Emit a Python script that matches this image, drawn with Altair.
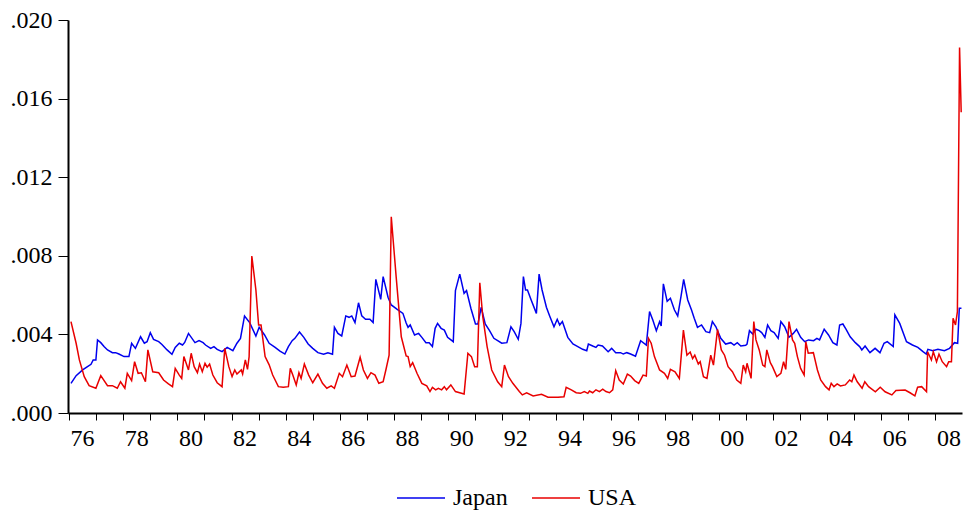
import altair as alt
import pandas as pd

# Decimal year and value (in units of 0.001)
jp_t = [1976.07,1976.26,1976.50,1976.68,1976.81,1976.89,1976.99,1977.05,1977.17,1977.29,1977.42,1977.60,1977.72,1977.84,
        1978.03,1978.21,1978.31,1978.45,1978.64,1978.78,1978.88,1979.00,1979.12,1979.31,1979.43,1979.62,1979.80,1979.92,
        1980.07,1980.19,1980.27,1980.41,1980.65,1980.80,1980.95,1981.04,1981.23,1981.35,1981.47,1981.65,1981.84,1982.05,
        1982.20,1982.33,1982.48,1982.67,1982.90,1983.02,1983.22,1983.39,1983.61,1983.79,1983.97,1984.10,1984.24,1984.34,
        1984.51,1984.67,1984.83,1985.00,1985.19,1985.40,1985.56,1985.73,1985.80,1985.93,1986.07,1986.22,1986.34,1986.44,
        1986.56,1986.69,1986.81,1986.95,1987.11,1987.23,1987.33,1987.51,1987.60,1987.78,1987.90,1988.12,1988.33,1988.45,
        1988.52,1988.60,1988.76,1988.91,1989.03,1989.18,1989.30,1989.42,1989.52,1989.61,1989.74,1989.86,1989.98,1990.19,
        1990.27,1990.43,1990.59,1990.68,1990.84,1991.01,1991.10,1991.22,1991.37,1991.53,1991.69,1991.83,1991.98,1992.17,
        1992.32,1992.44,1992.59,1992.69,1992.78,1992.86,1992.93,1993.06,1993.26,1993.36,1993.47,1993.63,1993.75,1993.91,
        1994.03,1994.12,1994.22,1994.42,1994.61,1994.79,1994.97,1995.12,1995.18,1995.34,1995.46,1995.54,1995.70,1995.91,
        1996.04,1996.19,1996.37,1996.47,1996.60,1996.74,1996.92,1997.11,1997.32,1997.44,1997.56,1997.69,1997.81,1997.87,
        1997.95,1998.09,1998.21,1998.36,1998.48,1998.60,1998.70,1998.85,1998.99,1999.09,1999.21,1999.36,1999.52,1999.66,
        1999.76,1999.89,2000.07,2000.25,2000.44,2000.56,2000.68,2000.81,2000.99,2001.04,2001.13,2001.25,2001.37,2001.49,
        2001.58,2001.70,2001.80,2001.92,2002.04,2002.19,2002.29,2002.43,2002.59,2002.75,2002.87,2003.02,2003.17,2003.31,
        2003.50,2003.62,2003.72,2003.89,2004.05,2004.21,2004.36,2004.46,2004.58,2004.70,2004.85,2005.04,2005.20,2005.28,
        2005.40,2005.58,2005.77,2005.95,2006.10,2006.22,2006.44,2006.50,2006.68,2006.93,2007.15,2007.35,2007.54,2007.66,
        2007.72,2007.90,2008.09,2008.33,2008.52,2008.70,2008.82,2008.88,2008.96]
jp_v = [1.51,1.90,2.19,2.36,2.48,2.70,2.70,3.72,3.58,3.38,3.21,3.07,3.07,3.00,
        2.87,2.87,3.55,3.29,3.88,3.55,3.63,4.09,3.75,3.63,3.49,3.21,2.99,3.34,
        3.55,3.46,3.59,4.05,3.58,3.68,3.58,3.46,3.29,3.38,3.24,3.12,3.34,3.17,
        3.55,3.80,4.94,4.60,3.92,4.36,3.97,3.55,3.34,3.15,3.00,3.38,3.68,3.80,
        4.12,3.85,3.51,3.29,3.07,2.99,3.07,2.99,4.36,4.05,3.92,4.94,4.87,4.94,
        4.60,5.61,4.94,4.77,4.77,4.60,6.80,5.78,6.94,5.89,5.50,5.27,5.07,4.58,
        4.36,4.48,3.97,4.05,3.85,3.58,3.58,3.38,4.31,4.56,4.31,4.22,3.85,3.63,
        6.23,7.07,6.09,6.23,5.33,4.53,4.53,5.38,4.53,4.19,3.80,3.68,3.55,3.58,
        4.39,4.14,3.75,4.56,6.94,6.26,6.26,5.78,5.07,7.07,6.26,5.38,4.94,4.39,
        4.77,4.48,4.65,3.85,3.51,3.38,3.24,3.17,3.51,3.41,3.34,3.46,3.41,3.12,
        3.29,3.07,3.07,3.00,3.07,3.00,2.89,3.68,3.46,5.16,4.73,4.19,4.65,4.43,
        6.57,5.68,5.84,5.24,4.94,5.92,6.80,5.75,5.24,4.82,4.36,4.48,4.14,4.09,
        4.65,4.39,3.80,3.51,3.58,3.46,3.58,3.41,3.45,3.51,4.19,4.02,4.26,4.19,
        4.09,3.85,4.48,4.19,4.09,3.80,4.65,4.39,3.85,4.05,4.26,3.85,3.63,3.72,
        3.68,3.80,3.72,4.26,3.97,3.58,3.46,4.48,4.53,4.26,3.88,3.58,3.38,3.21,
        3.41,3.07,3.29,3.07,3.55,3.63,3.38,4.99,4.56,3.63,3.46,3.34,3.12,3.00,
        3.24,3.17,3.24,3.17,3.29,3.58,3.55,5.33,5.33]

us_t = [1976.07,1976.26,1976.38,1976.56,1976.74,1976.99,1977.17,1977.42,1977.60,1977.78,1977.90,1978.06,1978.15,1978.31,
        1978.42,1978.55,1978.67,1978.82,1978.91,1979.09,1979.31,1979.49,1979.67,1979.82,1979.92,1980.07,1980.16,1980.24,
        1980.41,1980.51,1980.62,1980.74,1980.82,1980.92,1981.02,1981.10,1981.19,1981.31,1981.47,1981.65,1981.75,1981.90,
        1982.02,1982.12,1982.20,1982.36,1982.41,1982.51,1982.59,1982.65,1982.75,1982.90,1983.00,1983.09,1983.24,1983.39,
        1983.52,1983.73,1983.91,1984.10,1984.17,1984.26,1984.39,1984.49,1984.57,1984.69,1984.85,1985.00,1985.19,1985.36,
        1985.52,1985.68,1985.80,1985.98,1986.10,1986.26,1986.42,1986.56,1986.75,1986.87,1987.02,1987.15,1987.30,1987.44,
        1987.60,1987.70,1987.82,1987.90,1988.08,1988.27,1988.45,1988.52,1988.60,1988.69,1988.85,1989.03,1989.21,1989.33,
        1989.42,1989.54,1989.64,1989.76,1989.86,1989.94,1990.10,1990.27,1990.59,1990.73,1990.86,1990.98,1991.08,1991.17,
        1991.28,1991.44,1991.61,1991.83,1991.98,1992.08,1992.23,1992.39,1992.63,1992.74,1992.90,1993.14,1993.45,1993.69,
        1994.06,1994.28,1994.36,1994.55,1994.73,1994.89,1995.03,1995.16,1995.22,1995.34,1995.46,1995.59,1995.71,1995.83,
        1995.96,1996.08,1996.19,1996.32,1996.47,1996.62,1996.74,1996.89,1997.04,1997.20,1997.32,1997.40,1997.50,1997.62,
        1997.81,1997.99,1998.11,1998.21,1998.38,1998.54,1998.69,1998.82,1998.94,1999.03,1999.11,1999.24,1999.31,1999.43,
        1999.56,1999.70,1999.80,1999.95,2000.09,2000.21,2000.34,2000.50,2000.66,2000.81,2000.90,2000.99,2001.04,2001.19,
        2001.29,2001.37,2001.49,2001.62,2001.70,2001.77,2001.90,2001.98,2002.14,2002.29,2002.39,2002.47,2002.59,2002.72,
        2002.80,2002.90,2003.02,2003.15,2003.21,2003.30,2003.49,2003.64,2003.76,2003.94,2004.07,2004.15,2004.25,2004.37,
        2004.49,2004.67,2004.83,2004.91,2004.99,2005.11,2005.29,2005.39,2005.53,2005.78,2005.96,2006.14,2006.39,2006.54,
        2006.88,2007.06,2007.24,2007.34,2007.49,2007.67,2007.71,2007.85,2007.92,2008.04,2008.13,2008.25,2008.41,2008.49,
        2008.59,2008.65,2008.74,2008.81,2008.89,2008.95]
us_v = [4.65,3.55,2.70,1.85,1.39,1.26,1.90,1.39,1.39,1.26,1.59,1.26,2.02,1.65,
        2.61,2.02,2.05,1.59,3.21,2.10,2.05,1.68,1.48,1.34,2.27,1.93,1.76,2.87,
        2.19,3.04,2.36,2.05,2.49,2.10,2.53,2.33,2.49,1.93,1.54,1.34,3.29,2.36,
        1.85,2.19,1.98,2.19,1.98,2.70,2.22,2.87,7.99,6.26,4.48,4.48,2.87,2.45,
        1.93,1.34,1.31,1.34,2.27,1.95,1.43,2.05,1.76,2.49,1.93,1.54,1.98,1.51,
        1.26,1.38,1.26,2.02,1.85,2.44,1.85,1.88,2.84,2.19,1.76,2.05,1.93,1.51,
        1.59,2.19,2.94,9.99,6.94,3.88,2.90,2.87,2.36,2.56,2.02,1.51,1.38,1.09,
        1.30,1.18,1.26,1.18,1.34,1.18,1.43,1.09,0.97,3.04,2.87,2.36,2.36,6.63,
        4.90,3.38,2.19,1.59,1.34,2.44,1.85,1.51,1.09,0.92,1.03,0.87,0.95,0.80,
        0.80,0.83,1.31,1.18,1.03,1.00,1.09,1.00,1.12,1.03,1.18,1.09,1.21,1.09,
        1.03,1.18,2.15,1.68,1.48,1.98,1.88,1.65,1.51,1.93,1.88,3.80,3.55,2.87,
        2.19,2.02,1.76,2.22,2.10,1.76,4.22,2.94,3.10,2.77,2.94,2.49,2.61,1.85,
        1.76,2.94,2.44,4.26,3.21,2.94,2.36,2.10,1.68,1.51,2.44,2.10,2.53,1.76,
        4.65,3.72,3.21,2.44,2.36,3.21,2.56,2.36,1.85,2.02,2.61,2.22,4.65,3.72,
        3.55,2.87,2.27,1.93,3.63,3.04,3.07,2.19,1.68,1.34,1.18,1.51,1.34,1.48,
        1.38,1.43,1.68,1.59,1.93,1.59,1.26,1.59,1.34,1.08,1.31,1.08,0.92,1.14,
        1.17,1.03,0.87,1.31,1.34,1.08,3.12,2.70,3.12,2.61,3.00,2.61,2.36,2.61,
        2.61,4.82,4.48,5.16,18.6,15.3]

series_names = ["Japan", "USA"]
series_colors = ["#0000ee", "#e80000"]
y_ticks = [0.0, 0.004, 0.008, 0.012, 0.016, 0.020]
x_ticks = list(range(1976, 2009))

df = pd.concat([
    pd.DataFrame({"year": jp_t, "value": [v / 1000 for v in jp_v], "series": "Japan"}),
    pd.DataFrame({"year": us_t, "value": [v / 1000 for v in us_v], "series": "USA"}),
], ignore_index=True)

FONT = "Liberation Serif"
FS = 24

chart = alt.Chart(df).mark_line(strokeWidth=1.5, interpolate="linear").encode(
    x=alt.X("year:Q",
            scale=alt.Scale(domain=[1975.96, 2008.98], nice=False, zero=False),
            axis=alt.Axis(values=x_ticks, title=None, grid=False,
                          labelExpr="datum.value % 2 == 0 ? slice(toString(datum.value), 2) : ''",
                          labelAlign="left", labelOffset=1, labelFlush=False, labelOverlap=False,
                          labelFont=FONT, labelFontSize=FS, labelColor="black",
                          tickSize=7, tickColor="black", tickWidth=1,
                          domainColor="black", domainWidth=2, labelPadding=6)),
    y=alt.Y("value:Q",
            scale=alt.Scale(domain=[0, 0.02], nice=False),
            axis=alt.Axis(values=y_ticks, title=None, grid=False,
                          labelExpr="replace(format(datum.value, '.3f'), '0.', '.')",
                          labelFont=FONT, labelFontSize=FS, labelColor="black",
                          tickSize=10, tickColor="black", tickWidth=1,
                          domainColor="black", domainWidth=2, labelPadding=6,
                          labelFlush=False, labelOverlap=False)),
    color=alt.Color("series:N",
                    scale=alt.Scale(domain=series_names, range=series_colors),
                    legend=alt.Legend(title=None, orient="none", legendX=328, legendY=453,
                                      direction="horizontal", symbolType="stroke",
                                      symbolSize=2304, symbolStrokeWidth=1.5,
                                      labelFont=FONT, labelFontSize=FS, labelColor="black",
                                      labelOffset=7, columnPadding=21, padding=0)),
    order="year:Q",
).properties(
    width=894, height=393,
    autosize=alt.AutoSizeParams(type="none"),
    padding={"left": 60, "top": 12, "right": 1, "bottom": 99},
).configure_view(stroke=None)

chart.save("out.html", embed_options={"renderer": "svg", "actions": False})
